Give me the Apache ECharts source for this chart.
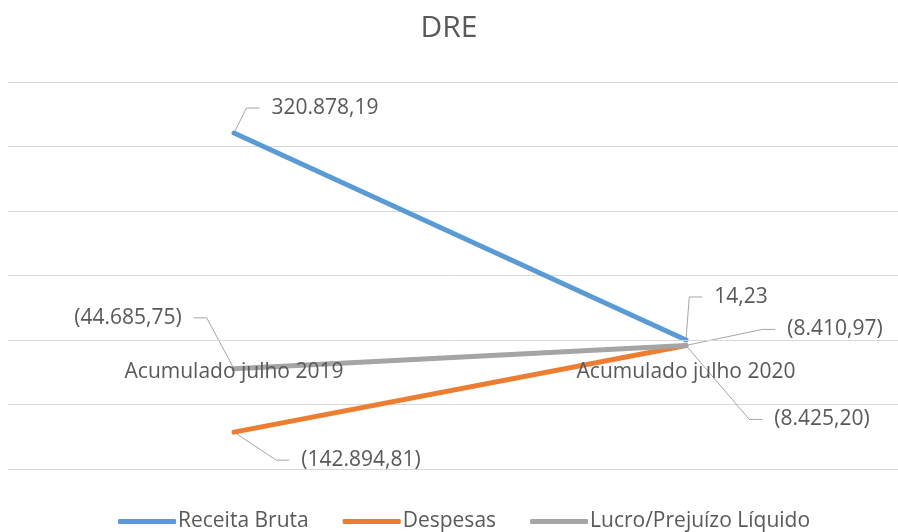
<!DOCTYPE html>
<html>
<head>
<meta charset="utf-8">
<script src="https://cdn.jsdelivr.net/npm/echarts@6/dist/echarts.min.js"></script>
<style>html,body{margin:0;padding:0;background:#fff}#c{width:898px;height:532px}</style>
</head>
<body>
<div id="c"></div>
<script>
const categories = ['Acumulado julho 2019', 'Acumulado julho 2020'];
const receitaBruta = [320878.19, 14.23];
const despesas = [-142894.81, -8425.20];
const lucroPrejuizo = [-44685.75, -8410.97];
const seriesNames = ['Receita Bruta', 'Despesas', 'Lucro/Prejuízo Líquido'];

// label offsets (px) from each point — layout only
const labelOffsets = [
  [[91, -25], [55, -43]],
  [[127, 28], [136, 74]],
  [[-106, -51], [149, -16]]
];
const colors = ['#5b9bd5', '#ed7d31', '#a5a5a5'];
const FONT = 'Open Sans';
const TXT = '#595959';

function fmt(v) {
  const neg = v < 0;
  const parts = Math.abs(v).toFixed(2).split('.');
  const i = parts[0].replace(/\B(?=(\d{3})+(?!\d))/g, '.');
  const s = i + ',' + parts[1];
  return neg ? '(' + s + ')' : s;
}

function mkSeries(idx, data) {
  return {
    name: seriesNames[idx],
    type: 'line',
    data: data,
    symbol: 'circle',
    symbolSize: 4,
    itemStyle: { color: colors[idx] },
    lineStyle: { color: colors[idx], width: 5, cap: 'round' },
    z: 2 + idx,
    label: {
      show: true,
      position: 'inside',
      formatter: p => fmt(p.value),
      color: TXT,
      fontFamily: FONT,
      fontSize: 21,
      backgroundColor: 'transparent',
      padding: [4, 12]
    },
    labelLine: { show: true, length2: 13, lineStyle: { color: '#a6a6a6', width: 1 } },
    labelLayout: function (p) {
      const o = labelOffsets[idx][p.dataIndex];
      return {
        x: p.rect.x + p.rect.width / 2 + o[0],
        y: p.rect.y + p.rect.height / 2 + o[1],
        align: 'center',
        verticalAlign: 'middle'
      };
    },
    emphasis: { disabled: true }
  };
}

const chart = echarts.init(document.getElementById('c'), null, { renderer: 'canvas' });
chart.setOption({
  animation: false,
  backgroundColor: '#fff',
  title: {
    text: 'DRE',
    left: 'center',
    top: 8,
    textStyle: { color: TXT, fontFamily: FONT, fontSize: 30, fontWeight: 'normal' }
  },
  legend: {
    data: seriesNames,
    left: 113,
    bottom: -5,
    icon: 'roundRect',
    itemWidth: 58,
    itemHeight: 5,
    itemGap: 34,
    textStyle: { color: TXT, fontFamily: FONT, fontSize: 21, padding: [0, 0, 0, -3] }
  },
  grid: { left: 8, right: -14, top: 82, bottom: 63, containLabel: false, outerBoundsMode: 'none' },
  xAxis: {
    type: 'category',
    data: categories,
    boundaryGap: true,
    z: 10,
    offset: -129,
    axisLine: { show: true, onZero: false, lineStyle: { color: '#d9d9d9', width: 1 } },
    axisTick: { show: false },
    axisLabel: { color: TXT, fontFamily: FONT, fontSize: 21, margin: 22 }
  },
  yAxis: {
    type: 'value',
    min: -200000,
    max: 400000,
    interval: 100000,
    axisLabel: { show: false },
    axisLine: { show: false },
    axisTick: { show: false },
    splitLine: { lineStyle: { color: '#d9d9d9', width: 1 } }
  },
  series: [mkSeries(0, receitaBruta), mkSeries(1, despesas), mkSeries(2, lucroPrejuizo)]
});
</script>
</body>
</html>
